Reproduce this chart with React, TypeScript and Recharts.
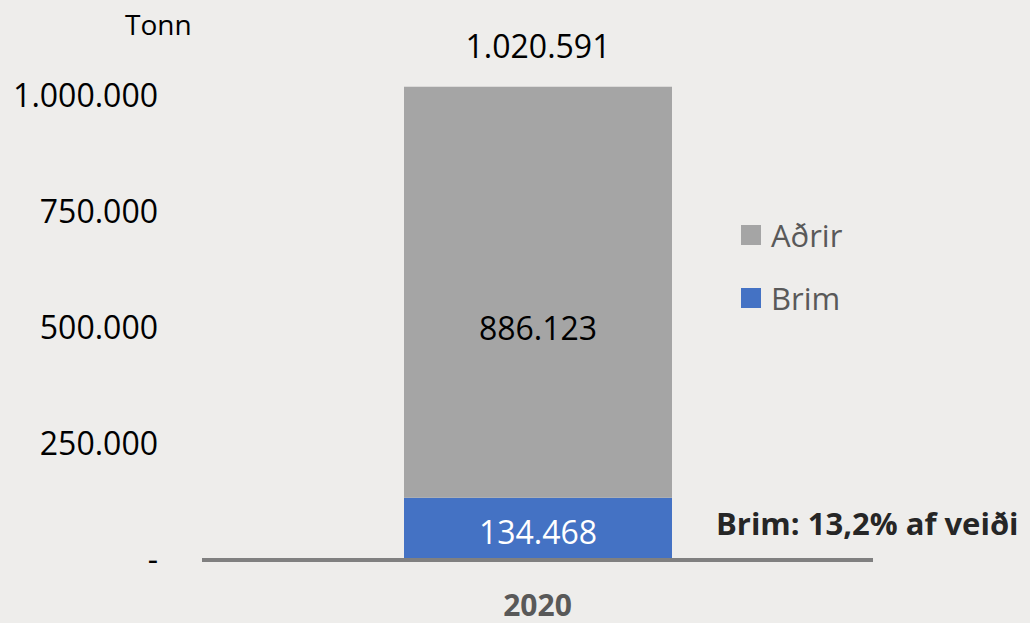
import React from 'react';
import { BarChart, Bar, XAxis, YAxis, LabelList } from 'recharts';

const years = ['2020'];
const brimValues = [134468];
const adrirValues = [886123];
const yTicks = [0, 250000, 500000, 750000, 1000000];

const data = years.map((year, i) => ({
  year,
  brim: brimValues[i],
  adrir: adrirValues[i],
  total: brimValues[i] + adrirValues[i],
}));

const FONT = '"Open Sans", sans-serif';

const fmt = (v: number) => (v === 0 ? '-' : String(Math.round(v)).replace(/\B(?=(\d{3})+(?!\d))/g, '.'));

const share = ((brimValues[0] / data[0].total) * 100).toFixed(1).replace('.', ',');

const YTick = ({ y, payload }: any) => (
  <text x={158} y={y - 2} textAnchor="end" dominantBaseline="central" fontSize={32} fill="#000" fontFamily={FONT}>
    {fmt(payload.value)}
  </text>
);

const XTick = ({ x, y, payload }: any) => (
  <text x={x} y={y + 36} textAnchor="middle" dominantBaseline="central" fontSize={30} fontWeight="bold" fill="#595959" fontFamily={FONT}>
    {payload.value}
  </text>
);

const TotalLabel = ({ x, y, width, index }: any) => (
  <text x={x + width / 2} y={y - 41} textAnchor="middle" dominantBaseline="central" fontSize={32} fill="#000" fontFamily={FONT}>
    {fmt(data[index].total)}
  </text>
);

const InnerLabel = ({ x, y, width, height, value, textColor, shift }: any) => (
  <text x={x + width / 2} y={y + height / 2 + (shift || 0)} textAnchor="middle" dominantBaseline="central" fontSize={32} fill={textColor} fontFamily={FONT}>
    {fmt(Number(value))}
  </text>
);

const legendItems = [
  { name: 'Aðrir', color: '#a5a5a5' },
  { name: 'Brim', color: '#4472c4' },
];

export default function App() {
  return (
    <div style={{ position: 'relative', width: 1030, height: 623, background: '#eeedeb', overflow: 'hidden' }}>
      <style>{'body{margin:0}'}</style>
      <div style={{ position: 'absolute', left: 125, top: 5, fontFamily: FONT, fontSize: 28, color: '#000' }}>Tonn</div>
      <div style={{ position: 'absolute', left: 741, top: 203, fontFamily: FONT, fontSize: 31, color: '#595959' }}>
        {legendItems.map((item) => (
          <div key={item.name} style={{ display: 'flex', alignItems: 'center', height: 63 }}>
            <span style={{ width: 20, height: 20, background: item.color, marginRight: 10, display: 'inline-block' }} />
            {item.name}
          </div>
        ))}
      </div>
      <div
        style={{ position: 'absolute', left: 716, top: 502, fontFamily: FONT, fontSize: 31, fontWeight: 'bold', color: '#262626', whiteSpace: 'nowrap' }}
      >
        {`Brim: ${share}% af veiði`}
      </div>
      <BarChart width={1030} height={623} data={data} margin={{ top: 50, right: 157, bottom: 0, left: 0 }}>
        <XAxis
          dataKey="year"
          height={63}
          axisLine={{ stroke: '#808080', strokeWidth: 4 }}
          tickLine={false}
          tick={<XTick />}
        />
        <YAxis
          width={202}
          domain={[0, 1100000]}
          ticks={yTicks}
          axisLine={false}
          tickLine={false}
          tick={<YTick />}
          interval={0}
        />
        <Bar dataKey="brim" name="Brim" stackId="a" fill="#4472c4" barSize={268} isAnimationActive={false}>
          <LabelList dataKey="brim" content={<InnerLabel textColor="#ffffff" shift={3} />} />
        </Bar>
        <Bar dataKey="adrir" name="Aðrir" stackId="a" fill="#a5a5a5" barSize={268} isAnimationActive={false}>
          <LabelList dataKey="adrir" content={<InnerLabel textColor="#000000" shift={35} />} />
          <LabelList dataKey="adrir" content={<TotalLabel />} />
        </Bar>
      </BarChart>
    </div>
  );
}
